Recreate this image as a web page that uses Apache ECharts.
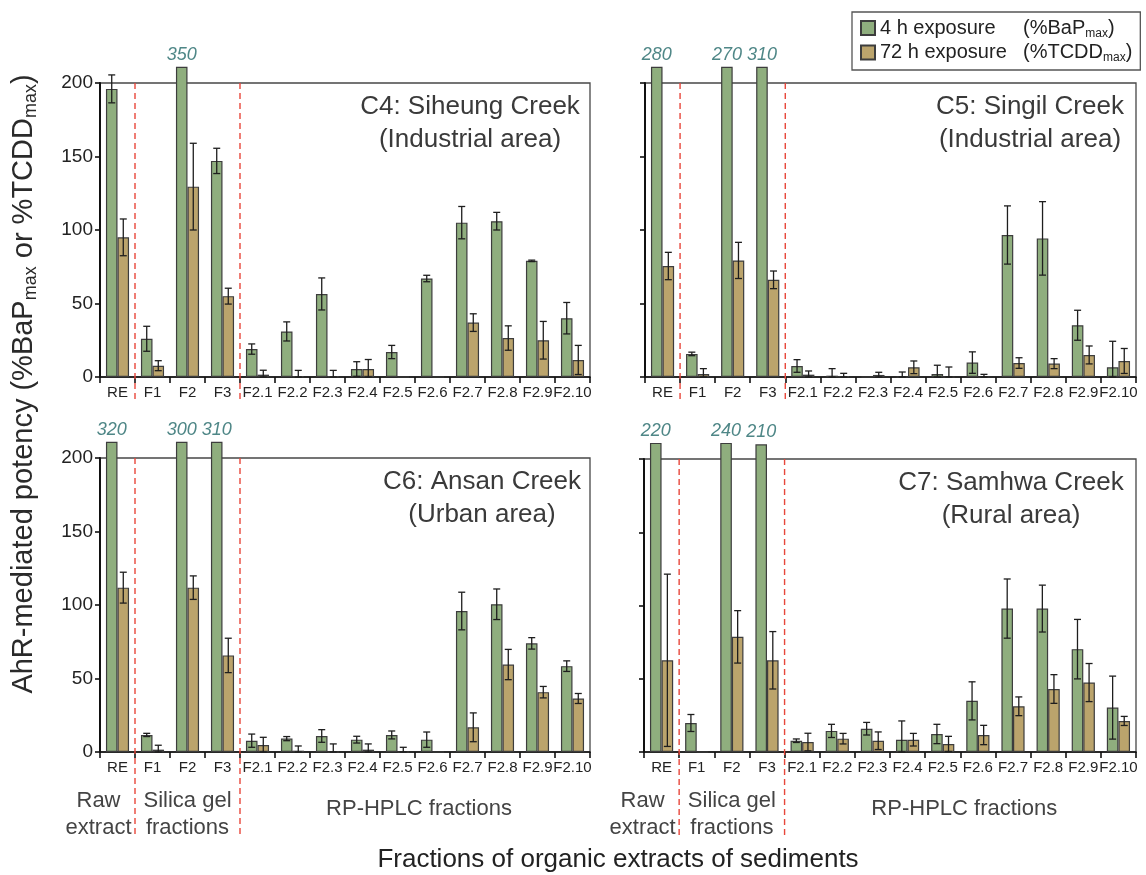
<!DOCTYPE html>
<html><head><meta charset="utf-8">
<script src="https://cdn.jsdelivr.net/npm/echarts@6/dist/echarts.min.js"></script>
<style>html,body{margin:0;padding:0;background:#fff}#c{width:1146px;height:875px}</style>
</head><body><div id="c"></div>
<script>
// ---------- data ----------
const categories = ['RE','F1','F2','F3','F2.1','F2.2','F2.3','F2.4','F2.5','F2.6','F2.7','F2.8','F2.9','F2.10'];
const yTicks = [0, 50, 100, 150, 200];

const c4_4h     = [196, 26, 350, 147, 19, 31, 56.5, 5.4, 17, 67, 105, 106, 79, 40];
const c4_4hErr  = [9.5, 8.5, 0, 8.6, 3.5, 6.5, 10.9, 5, 4.5, 2.2, 11, 6, 0.5, 10.7];
const c4_72h    = [95, 7.7, 129.5, 55, 1.6, 0.5, 0.5, 5.4, 0, 0, 37, 26.5, 25, 11.6];
const c4_72hErr = [12.5, 3.4, 29.5, 5.4, 3, 4, 4, 6.5, 0, 0, 6, 8.3, 12.8, 9.9];

const c5_4h     = [280, 15.7, 270, 310, 7.5, 0.9, 0, 0, 2, 9.8, 96.6, 94.3, 35.2, 6.6];
const c5_4hErr  = [0, 1.2, 0, 0, 4.3, 4.8, 0, 3.4, 6, 7.3, 19.8, 25, 10.2, 17.7];
const c5_72h    = [75.5, 2, 79.3, 66.1, 1.6, 0.5, 1.4, 6.6, 0, 0, 9.5, 9.1, 15, 10.9];
const c5_72hErr = [9.3, 3.7, 12.3, 6, 2.5, 2, 1.8, 4.3, 6.8, 1.8, 3.6, 3.4, 6.1, 8.5];

const c6_4h     = [320, 11.6, 300, 310, 7.7, 9.1, 10.9, 8.4, 11.6, 8.4, 95.9, 100.5, 73.9, 58.4];
const c6_4hErr  = [0, 1.1, 0, 0, 4.5, 1.4, 4.3, 2.3, 2.7, 5.2, 12.8, 10.4, 3.9, 3.6];
const c6_72h    = [111.8, 1.6, 111.8, 65.7, 4.8, 0.9, 0, 1.6, 0, 0, 16.8, 59.5, 40.7, 36.4];
const c6_72hErr = [10.5, 3, 8, 11.7, 5.2, 3.2, 5.5, 3.9, 3.2, 0, 9.8, 10.3, 3.9, 3.4];

const c7_4h     = [220, 19.8, 240, 210, 7.7, 14.4, 15.9, 8.4, 12.3, 34.9, 97.9, 97.9, 70.2, 30.3];
const c7_4hErr  = [0, 5.8, 0, 0, 1.2, 4.5, 4.3, 12.8, 6.6, 13, 20.2, 16, 20.3, 21.5];
const c7_72h    = [62.6, 0, 78.6, 62.6, 6.8, 9.1, 7.7, 8.4, 5.5, 11.6, 31.2, 43, 47.4, 21.2];
const c7_72hErr = [58.8, 0, 17.9, 19.6, 6, 3.6, 6, 4.3, 5.2, 6.6, 6.4, 9.8, 13, 3.1];

// ---------- layout / style ----------
const FONT = '"Liberation Sans", Arial, sans-serif';
const GREEN = '#8fae7e', TAN = '#bba46c', EDGE = '#3d3d3d';
const CAP = 211; // bars above the axis are drawn cut just above the frame
const panels = [
  {a:c4_4h, ae:c4_4hErr, b:c4_72h, be:c4_72hErr, grid:{left:100, top:83, width:490, height:294}, labels:true,  bottom:false, t1:'C4: Siheung Creek', t2:'(Industrial area)', tx:470},
  {a:c5_4h, ae:c5_4hErr, b:c5_72h, be:c5_72hErr, grid:{left:645, top:83, width:491, height:294}, labels:false, bottom:false, t1:'C5: Singil Creek',  t2:'(Industrial area)', tx:1030},
  {a:c6_4h, ae:c6_4hErr, b:c6_72h, be:c6_72hErr, grid:{left:100, top:458, width:490, height:294}, labels:true,  bottom:true,  t1:'C6: Ansan Creek',   t2:'(Urban area)', tx:482},
  {a:c7_4h, ae:c7_4hErr, b:c7_72h, be:c7_72hErr, grid:{left:644, top:459, width:492, height:293}, labels:false, bottom:true,  t1:'C7: Samhwa Creek',  t2:'(Rural area)', tx:1011}
];

function barData(vals){
  return vals.map(v => v > 200 ? {
    value: Math.min(v, CAP), real: v,
    label: {show:true, position:'top', distance:3, formatter: p => String(p.data.real),
            color:'#4f8787', fontStyle:'italic', fontSize:18, fontFamily:FONT}
  } : v);
}
function errData(vals, errs){
  const out = [];
  vals.forEach((v,i) => { if (errs[i] > 0) out.push([i, Math.max(v - errs[i], 0), v + errs[i]]); });
  return out;
}
function errRender(sign){
  return function(params, api){
    const i = api.value(0);
    const pHi = api.coord([i, api.value(2)]);
    const pLo = api.coord([i, api.value(1)]);
    const bw = api.size([1, 0])[0] * 0.33;
    const x = pHi[0] + sign * bw / 2;
    const c = 3.5;
    const st = {stroke:'#1e1e1e', lineWidth:1.3};
    return {type:'group', children:[
      {type:'line', shape:{x1:x, y1:pHi[1], x2:x, y2:pLo[1]}, style:st},
      {type:'line', shape:{x1:x-c, y1:pHi[1], x2:x+c, y2:pHi[1]}, style:st},
      {type:'line', shape:{x1:x-c, y1:pLo[1], x2:x+c, y2:pLo[1]}, style:st}
    ]};
  };
}
function dashRender(extend){
  return function(params, api){
    const i = api.value(0);
    const p0 = api.coord([i, 200]);
    const p1 = api.coord([i + 1, 0]);
    const x = (p0[0] + p1[0]) / 2;
    return {type:'line', shape:{x1:x, y1:p0[1], x2:x, y2:p1[1] + extend},
            style:{stroke:'#e8473b', lineWidth:1.4, lineDash:[6,4]}};
  };
}

const grids = [], xAxes = [], yAxes = [], series = [], graphics = [];
panels.forEach((p, k) => {
  grids.push(Object.assign({show:true, borderColor:'#474747', borderWidth:1.3, backgroundColor:'transparent'}, p.grid));
  xAxes.push({type:'category', gridIndex:k, data:categories,
    axisLine:{lineStyle:{color:'#111', width:1.6}},
    axisTick:{show:true, length:6, lineStyle:{color:'#111', width:1.6}},
    axisLabel:{interval:0, fontSize:15, color:'#222', margin:8, fontFamily:FONT}});
  yAxes.push({type:'value', gridIndex:k, min:0, max:200, interval:50,
    axisLine:{show:true, lineStyle:{color:'#111', width:2}},
    axisTick:{show:true, length:5, lineStyle:{color:'#111', width:1.6}},
    axisLabel:{show:p.labels, fontSize:19, color:'#222', margin:7, fontFamily:FONT},
    splitLine:{show:false}});
  series.push({name:'4h', type:'bar', xAxisIndex:k, yAxisIndex:k, data:barData(p.a), clip:false,
    barGap:'0%', barCategoryGap:'34%', itemStyle:{color:GREEN, borderColor:EDGE, borderWidth:1.2}});
  series.push({name:'72h', type:'bar', xAxisIndex:k, yAxisIndex:k, data:barData(p.b), clip:false,
    barGap:'0%', barCategoryGap:'34%', itemStyle:{color:TAN, borderColor:EDGE, borderWidth:1.2}});
  series.push({type:'custom', xAxisIndex:k, yAxisIndex:k, clip:false, z:5, silent:true,
    renderItem:errRender(-1), data:errData(p.a, p.ae)});
  series.push({type:'custom', xAxisIndex:k, yAxisIndex:k, clip:false, z:5, silent:true,
    renderItem:errRender(1), data:errData(p.b, p.be)});
  series.push({type:'custom', xAxisIndex:k, yAxisIndex:k, clip:false, z:6, silent:true,
    renderItem:dashRender(p.bottom ? 86 : 24), data:[[0],[3]]});
  graphics.push({type:'text', x:p.tx, y:p.grid.top + 24,
    style:{text:p.t1, font:'26px ' + FONT, fill:'#3a3a3a', textAlign:'center', textVerticalAlign:'middle'}});
  graphics.push({type:'text', x:p.tx, y:p.grid.top + 57,
    style:{text:p.t2, font:'26px ' + FONT, fill:'#3a3a3a', textAlign:'center', textVerticalAlign:'middle'}});
});

graphics.push({type:'text', x:24, y:384, rotation:Math.PI/2,
  style:{text:'{a|AhR-mediated potency (%BaP}{s|max}{a| or %TCDD}{s|max}{a|)}',
    align:'center', verticalAlign:'middle',
    rich:{a:{fontSize:29, fontFamily:FONT, fill:'#2a2a2a', lineHeight:33},
          s:{fontSize:18, fontFamily:FONT, fill:'#2a2a2a', lineHeight:33, verticalAlign:'bottom'}}}});
graphics.push({type:'text', x:618, y:860,
  style:{text:'Fractions of organic extracts of sediments', font:'26px ' + FONT, fill:'#222',
         textAlign:'center', textVerticalAlign:'middle'}});

const chart = echarts.init(document.getElementById('c'), null, {renderer:'canvas'});
const option = {
  backgroundColor:'#fff',
  animation:false,
  legend:{
    data:['4h','72h'], orient:'vertical', left:852, top:12, padding:[6,8,6,8], itemGap:3,
    itemWidth:14, itemHeight:14, icon:'rect', borderColor:'#555', borderWidth:1.3,
    formatter: n => n === '4h' ? '{t|4 h exposure}{p|(%BaP}{s|max}{p|)}' : '{t|72 h exposure}{p|(%TCDD}{s|max}{p|)}',
    textStyle:{fontFamily:FONT, color:'#222', rich:{
      t:{fontSize:20, width:143, fontFamily:FONT, color:'#222', lineHeight:23},
      p:{fontSize:20, fontFamily:FONT, color:'#222', lineHeight:23},
      s:{fontSize:12, fontFamily:FONT, color:'#222', lineHeight:23, verticalAlign:'bottom'}}}
  },
  grid:grids, xAxis:xAxes, yAxis:yAxes, series:series, graphic:graphics
};
chart.setOption(option);

// group labels under the bottom panels, placed from the category axis positions
const groupGraphics = [];
[2, 3].forEach(k => {
  const xRE = chart.convertToPixel({xAxisIndex:k}, 'RE');
  const xF2 = chart.convertToPixel({xAxisIndex:k}, 'F2');
  const xA = chart.convertToPixel({xAxisIndex:k}, 'F2.1');
  const xB = chart.convertToPixel({xAxisIndex:k}, 'F2.10');
  const y0 = panels[k].grid.top + panels[k].grid.height;
  const st = (t, x, y) => ({type:'text', x:x, y:y,
    style:{text:t, font:'22px ' + FONT, fill:'#444', textAlign:'center', textVerticalAlign:'middle', lineHeight:27}});
  groupGraphics.push(st('Raw\nextract', xRE - 19, y0 + 62));
  groupGraphics.push(st('Silica gel\nfractions', xF2, y0 + 62));
  groupGraphics.push(st('RP-HPLC fractions', (xA + xB) / 2 + 4, y0 + 57));
});
chart.setOption({graphic: graphics.concat(groupGraphics)});
</script></body></html>
